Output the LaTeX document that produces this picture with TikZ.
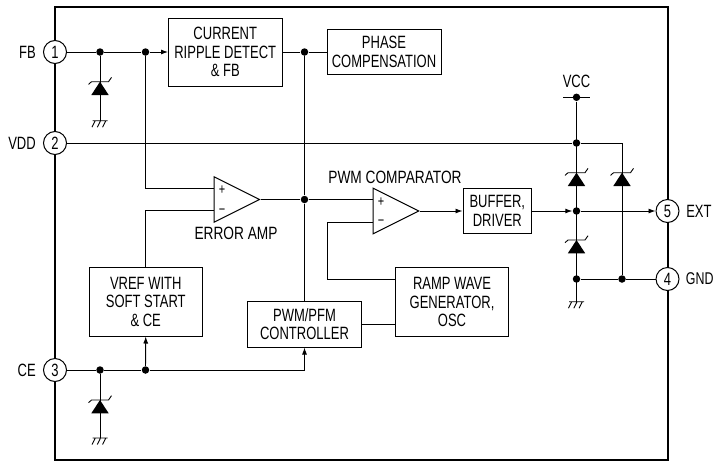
\documentclass[tikz,border=0pt]{standalone}
\usepackage{fontspec}
\setmainfont[FakeStretch=0.73]{Liberation Sans}
\newfontfamily\widelabel[FakeStretch=0.77]{Liberation Sans}
\usetikzlibrary{arrows.meta, positioning, calc, shapes.geometric}
\newcommand{\zener}[2]{
  \fill[shift={(#1,#2)}] (0,0) -- (8.7,13.3) -- (-8.7,13.3) -- cycle;
  \draw[shift={(#1,#2)}] (-11.5,2.7) -- (-8.5,0) -- (8.5,0) -- (11.5,-4.3);
}
\newcommand{\earth}[2]{
  \draw[shift={(#1,#2)}] (-7.5,0) -- (7.5,0)
    (-5,0.5) -- (-8,6.5) (0.3,0.5) -- (-2.7,6.5) (5.6,0.5) -- (2.6,6.5);
}

\begin{document}
\begin{tikzpicture}[
    x=1pt, y=-1pt,
    every node/.style={font=\fontsize{17.8}{18.5}\selectfont},
    every path/.style={line width=0.9pt},
    block/.style={
      draw,
      align=center,
      inner sep=0pt,
      line width=1pt
    },
    pin/.style={
      draw,
      circle,
      fill=white,
      minimum size=23pt,
      inner sep=0pt,
      line width=1pt
    },
    junction/.style={circle, fill=black, minimum size=7.5pt, inner sep=0pt},
    opamp/.style={
      draw,
      isosceles triangle,
      isosceles triangle stretches,
      minimum width=45.5pt,
      minimum height=45.5pt,
      inner sep=0pt,
      anchor=lower side,
      line width=1pt
    },
    sign/.style={font=\fontsize{15}{15}\selectfont, inner sep=0pt},
    flow/.style={-{Latex[length=7pt, width=5pt]}}
  ]
  \useasboundingbox (0,0) rectangle (714,461);
  \draw[line width=2pt] (55,6.5) rectangle (667.5,459.5);

  % pins
  \node[pin] (fb) at (55,52) {1};
  \node[pin] (vdd) at (55,143) {2};
  \node[pin] (ce) at (55,370) {3};
  \node[pin] (ext) at (667.5,211) {5};
  \node[pin] (gnd) at (667.5,279) {4};
  \node[left=3.5pt of fb] (fblabel) {FB};
  \node[left=3.5pt of vdd] (vddlabel) {VDD};
  \node[left=3.5pt of ce] (celabel) {CE};
  \node[right=3pt of ext] (extlabel) {EXT};
  \node[right=3pt of gnd, inner xsep=1pt, xshift=2pt] (gndlabel) {\fontsize{17}{18.5}\selectfont GND};

  % blocks
  \node[block, minimum width=113.5pt, minimum height=68pt] (ripple) at (225.25,52) {CURRENT\\RIPPLE DETECT\\\& FB};
  \node[block, minimum width=114pt, minimum height=45.5pt] (phase) at (384,52) {PHASE\\COMPENSATION};
  \node[block, minimum width=113.5pt, minimum height=68.5pt] (vref) at (145.75,301.75) {VREF WITH\\SOFT START\\\& CE};
  \node[block, minimum width=113.5pt, minimum height=46pt] (ctrl) at (304.5,324) {PWM/PFM\\CONTROLLER};
  \node[block, minimum width=113.5pt, minimum height=68.5pt] (ramp) at (452,302) {RAMP WAVE\\GENERATOR,\\OSC};
  \node[block, minimum width=68.6pt, minimum height=45.7pt] (buffer) at (497.3,211) {BUFFER,\\DRIVER};

  % amplifiers
  \node[opamp] (erramp) at (213.5,199.5) {};
  \node[opamp] (pwmcomp) at (372.7,211) {};
  \node[sign] (errplus) at (222,190) {+};
  \node[sign] (errminus) at (222,212) {−};
  \node[sign] (pwmplus) at (381,202) {+};
  \node[sign] (pwmminus) at (381,223) {−};
  \node (errlabel) at (236,233.5) {\widelabel ERROR AMP};
  \node (pwmlabel) at (395,177) {\widelabel PWM COMPARATOR};
  \node (vcclabel) at (576.5,81.5) {VCC};

  % junctions
  \node[junction] (fbz) at (100,52) {};
  \node[junction] (fbin) at (145.5,52) {};
  \node[junction] (fbout) at (304.5,52) {};
  \node[junction] (ampout) at (304.5,199.5) {};
  \node[junction] (cez) at (100,370) {};
  \node[junction] (cein) at (145.5,370) {};
  \node[junction] (vccdot) at (576.5,97.3) {};
  \node[junction] (vdddot) at (576.5,143) {};
  \node[junction] (extdot) at (576.5,211) {};
  \node[junction] (gnddot) at (576.5,279) {};
  \node[junction] (gndright) at (622,279) {};

  \coordinate (fbgnd) at (100,120.7);
  \coordinate (cegnd) at (100,438);
  \coordinate (outgnd) at (576.5,301.7);
  \coordinate (vddcorner) at (622,143);
  \coordinate (errplusin) at (213.5,188.3);
  \coordinate (errminusin) at (213.5,210.7);
  \coordinate (pwmplusin) at (372.7,199.5);
  \coordinate (pwmminusin) at (372.7,222.5);
  \coordinate (rampin) at (395.25,279);

  % wiring
  \draw (fb) -- (fbz) -- (fbin);
  \draw[flow] (fbin) -- (ripple.west);
  \draw (ripple.east) -- (fbout) -- (phase.west);
  \draw (fbz) -- (fbgnd);
  \draw (fbin) |- (errplusin);
  \draw (errminusin) -| (vref.north);
  \draw (erramp.apex) -- (ampout) -- (pwmplusin);
  \draw (fbout) -- (ampout) -- (ctrl.north);
  \draw (pwmminusin) -- (327,222.5) |- (rampin);
  \draw (ctrl.east) -- (ctrl.east -| ramp.west);
  \draw[flow] (pwmcomp.apex) -- (buffer.west);
  \draw (vdd) -- (vdddot) -- (vddcorner) -- (gndright);
  \draw (vccdot) -- (outgnd);
  \draw (563,97.3) -- (590,97.3);
  \draw[flow] (buffer.east) -- (extdot);
  \draw[flow] (extdot) -- (ext);
  \draw (gnddot) -- (gndright) -- (gnd);
  \draw (ce) -- (cez) -- (cein);
  \draw (cez) -- (cegnd);
  \draw[flow] (cein) -- (vref.south);
  \draw[flow] (cein) -| (ctrl.south);

  % zeners and earth marks
  \zener{100}{81.7}
  \zener{100}{400}
  \zener{576.5}{172.7}
  \zener{576.5}{240}
  \zener{622}{172.7}
  \earth{100}{120.7}
  \earth{100}{438}
  \earth{576.5}{301.7}
\end{tikzpicture}
\end{document}
